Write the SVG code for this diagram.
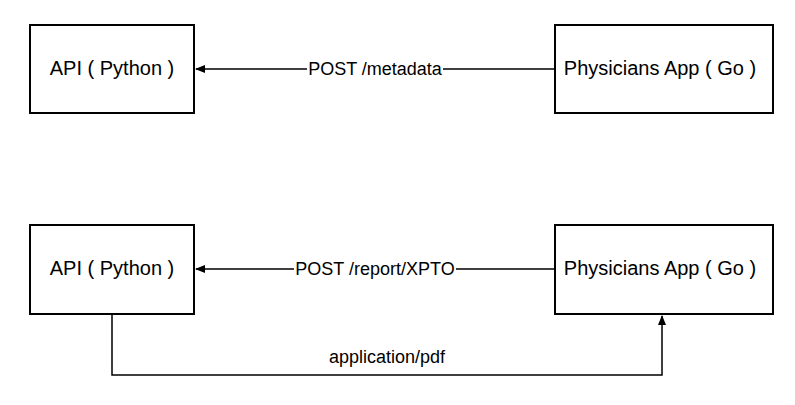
<svg xmlns="http://www.w3.org/2000/svg" width="795" height="405" viewBox="0 0 795 405">
<style>
.box{fill:#fff;stroke:#000;stroke-width:2}
.t{font-family:"Liberation Sans",Arial,sans-serif;font-size:20px;fill:#000;text-anchor:middle;dominant-baseline:central}
.l{font-family:"Liberation Sans",Arial,sans-serif;font-size:18px;fill:#000;text-anchor:middle;dominant-baseline:central}
.c{fill:none;stroke:#000;stroke-width:1.5}
.lbl{fill:#fff}
</style>
<defs>
<marker id="ah" viewBox="0 0 10 10" refX="9" refY="5" markerWidth="10" markerHeight="10" markerUnits="userSpaceOnUse" orient="auto">
<path d="M0,1 L10,5 L0,9 z" fill="#000"/>
</marker>
</defs>
<rect width="795" height="405" fill="#fff"/>
<g id="connectors">
<path class="c" d="M555,69 H196" marker-end="url(#ah)"/>
<rect class="lbl" x="307" y="59" width="136" height="20"/>
<text class="l" x="375" y="69">POST /metadata</text>
<path class="c" d="M555,269 H196" marker-end="url(#ah)"/>
<rect class="lbl" x="294" y="259" width="162" height="20"/>
<text class="l" x="375" y="269">POST /report/XPTO</text>
<path class="c" d="M112,315 V375 H662 V316" marker-end="url(#ah)"/>
<text class="l" x="387" y="357">application/pdf</text>
</g>
<g id="api1"><rect class="box" x="30" y="25" width="164" height="88"/><text class="t" x="112" y="68">API ( Python )</text></g>
<g id="app1"><rect class="box" x="555" y="25" width="218" height="88"/><text class="t" x="660" y="68">Physicians App ( Go )</text></g>
<g id="api2"><rect class="box" x="30" y="225" width="164" height="89"/><text class="t" x="112" y="268">API ( Python )</text></g>
<g id="app2"><rect class="box" x="555" y="225" width="218" height="89"/><text class="t" x="660" y="268">Physicians App ( Go )</text></g>
</svg>
